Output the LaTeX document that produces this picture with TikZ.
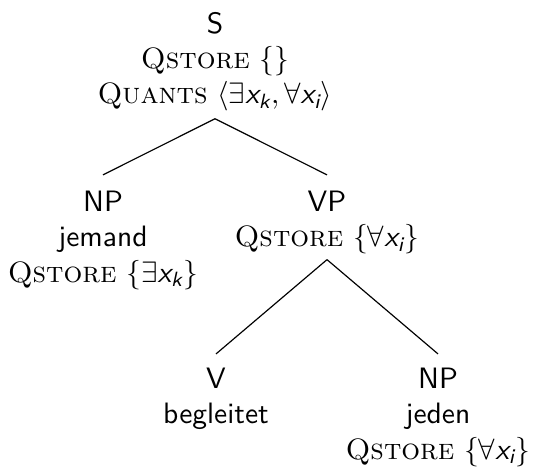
\documentclass[tikz,border=0pt]{standalone}
\usepackage{amsmath}
\newcommand{\vx}[1]{\textsf{\itshape x}_{\textsf{\itshape #1}}}
\newcommand{\qs}{\textrm{\textsc{Qstore}}}
\newcommand{\qu}{\textrm{\textsc{Quants}}}
\begin{document}
\begin{tikzpicture}[x=0.339pt,y=-0.339pt,
  tn/.style={align=center, inner sep=0pt, anchor=north, font=\sffamily},
  branch/.style={draw=black, line width=0.4pt}]
\useasboundingbox (0,0) rectangle (533,471);
\node[tn] (S) at (215,11.5) {S\\ \qs\ $\{\}$\\ \qu\ $\langle\exists\vx{k},\forall\vx{i}\rangle$};
\node[tn] (NP1) at (103,190.5) {NP\\ jemand\\ \qs\ $\{\exists\vx{k}\}$};
\node[tn] (VP) at (327,190.5) {VP\\ \qs\ $\{\forall\vx{i}\}$};
\node[tn] (V) at (216,367.5) {V\\ begleitet};
\node[tn] (NP2) at (438,367.5) {NP\\ jeden\\ \qs\ $\{\forall\vx{i}\}$};
\draw[branch] ([yshift=-2.3pt]S.south) -- ([yshift=5.3pt]NP1.north);
\draw[branch] ([yshift=-2.3pt]S.south) -- ([yshift=5.3pt]VP.north);
\draw[branch] ([yshift=-1.6pt]VP.south) -- ([yshift=4.6pt]V.north);
\draw[branch] ([yshift=-1.6pt]VP.south) -- ([yshift=4.6pt]NP2.north);
\end{tikzpicture}
\end{document}
